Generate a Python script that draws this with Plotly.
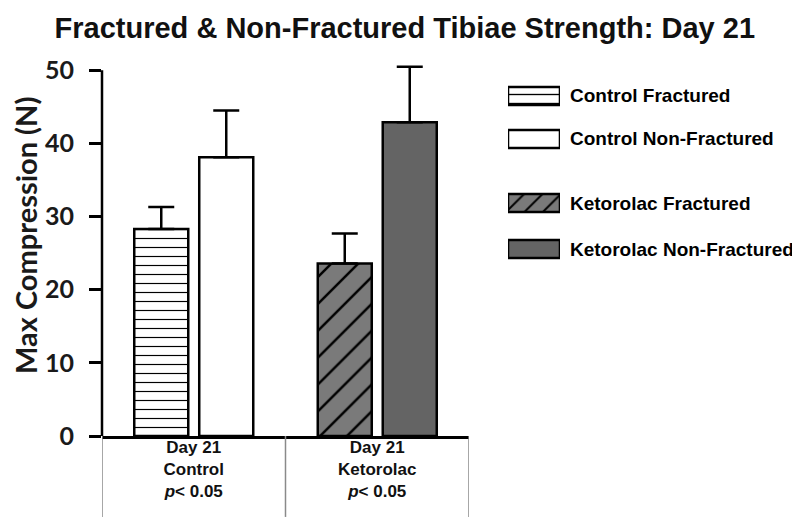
import plotly.graph_objects as go

# ---- data ----
categories = ["Day 21<br>Control<br><i>p</i>< 0.05", "Day 21<br>Ketorolac<br><i>p</i>< 0.05"]
series_names = ["Control Fractured", "Control Non-Fractured",
                "Ketorolac Fractured", "Ketorolac Non-Fractured"]
series_category = [0, 0, 1, 1]
series_group = ["Fractured", "Non-Fractured", "Fractured", "Non-Fractured"]
means = [28.3, 38.1, 23.6, 42.9]
errors = [3.0, 6.4, 4.1, 7.6]
y_ticks = [0, 10, 20, 30, 40, 50]

# ---- styles ----
fills = ["white", "white", "#7a7a7a", "#646464"]
patterns = ["-", "", "/", ""]
pattern_sizes = [9, 9, 19, 9]
legend_pattern_sizes = [9, 9, 13, 9]
legend_pos = [0, 1, 2.49, 3.56]

fig = go.Figure()
for i, name in enumerate(series_names):
    fig.add_trace(go.Bar(
        x=[categories[series_category[i]]], y=[means[i]], name=name,
        offsetgroup=series_group[i], showlegend=False, cliponaxis=False,
        marker=dict(color=fills[i], line=dict(color="black", width=2.5),
                    pattern=dict(shape=patterns[i], fgcolor="black", bgcolor=fills[i],
                                 size=pattern_sizes[i], solidity=0.13, fillmode="replace")),
        error_y=dict(type="data", array=[errors[i]], arrayminus=[0], symmetric=False,
                     color="black", thickness=2.5, width=13),
    ))

# legend swatches on a hidden helper axis
for i, name in enumerate(series_names):
    fig.add_trace(go.Bar(
        x=[1], y=[legend_pos[i]], orientation="h", base=0, width=0.42,
        xaxis="x2", yaxis="y2", showlegend=False, hoverinfo="skip", name=name,
        marker=dict(color=fills[i], line=dict(color="black", width=2.5),
                    pattern=dict(shape=patterns[i], fgcolor="black", bgcolor=fills[i],
                                 size=legend_pattern_sizes[i], solidity=0.15, fillmode="replace")),
    ))
    fig.add_annotation(x=1, y=legend_pos[i], xref="x2", yref="y2", text=name,
                       showarrow=False, xanchor="left", xshift=8,
                       font=dict(family="Liberation Sans, Arial", size=19, color="black", weight="bold"))

# category separators below axis
for k in range(len(categories) + 1):
    fig.add_shape(type="line", xref="x", yref="paper", x0=k - 0.5, x1=k - 0.5, y0=0, y1=-0.217,
                  line=dict(color="#8a8a8a", width=1.5))

fig.add_annotation(text="Max Compression (N)", xref="paper", yref="paper", x=-0.1138, y=0.539,
                   textangle=-90, showarrow=False, xanchor="center", yanchor="middle",
                   font=dict(family="Lato, Open Sans", size=29, color="#1a1a1a", weight="bold"))

fig.update_layout(
    width=800, height=528,
    margin=dict(l=94, r=38, t=55, b=100),
    paper_bgcolor="white", plot_bgcolor="white",
    barmode="group", bargap=0.2916, bargroupgap=0.169,
    title=dict(text="Fractured & Non-Fractured Tibiae Strength: Day 21", xref="container",
               x=0.496, y=0.962, xanchor="center", yanchor="middle",
               font=dict(family="Liberation Sans, Arial", size=29, color="#111", weight="bold")),
    xaxis=dict(domain=[0, 0.5494], type="category", range=[-0.5, 1.5], automargin=False,
               showline=True, linecolor="black", linewidth=2.5, ticks="", showgrid=False,
               ticklabelstandoff=-6,
               tickfont=dict(family="Liberation Sans, Arial", size=17, color="#111", weight="bold")),
    yaxis=dict(range=[0, 51], tickvals=y_ticks, showline=False, automargin=False,
               ticks="outside", ticklen=12, tickwidth=2.5, tickcolor="black", showgrid=False,
               zeroline=False, ticklabelstandoff=10,
               tickfont=dict(family="Lato, Open Sans", size=25, color="#1a1a1a", weight="bold")),
    xaxis2=dict(domain=[0.6078, 0.6856], range=[0, 1], visible=False, anchor="y2"),
    yaxis2=dict(domain=[0, 1], range=[7.907, -0.767], visible=False, anchor="x2"),
)

# y axis line running from 0 to the top tick
fig.add_shape(type="line", xref="paper", yref="y", x0=0, x1=0, y0=y_ticks[0], y1=y_ticks[-1],
              line=dict(color="black", width=2.5))

fig.write_html("out.html")
